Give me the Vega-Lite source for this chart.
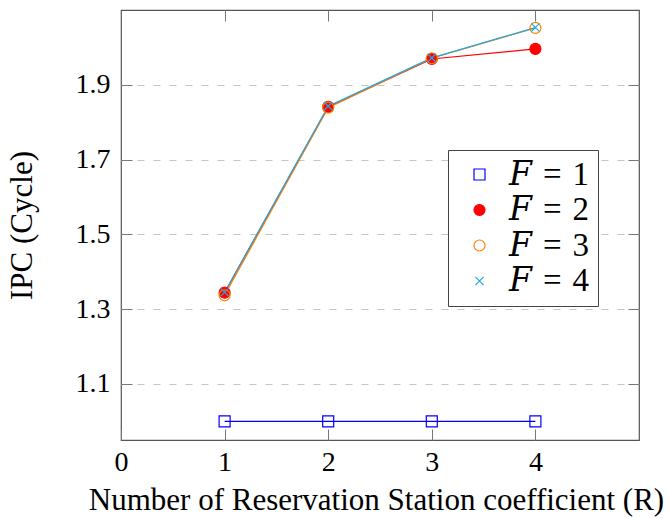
{
  "$schema": "https://vega.github.io/schema/vega-lite/v6.json",
  "width": 518,
  "height": 430,
  "autosize": {"type": "none"},
  "padding": {"left": 121, "top": 10, "right": 30, "bottom": 78},
  "background": "white",
  "config": {
    "view": {"stroke": "#555555", "strokeWidth": 1.2},
    "font": "Liberation Serif",
    "axis": {
      "labelFont": "Liberation Serif",
      "titleFont": "Liberation Serif",
      "labelFontSize": 28,
      "titleFontSize": 31,
      "titleFontWeight": "normal",
      "labelColor": "black",
      "titleColor": "black",
      "domain": false,
      "tickColor": "#777777",
      "tickSize": -11,
      "tickWidth": 1,
      "labelFlush": false
    },
    "legend": {
      "titleFont": "Liberation Serif",
      "labelFont": "Liberation Serif, DejaVu Serif"
    }
  },
  "data": {
    "values": [
      {"R": 1, "F": "1", "ipc": 1.0},
      {"R": 2, "F": "1", "ipc": 1.0},
      {"R": 3, "F": "1", "ipc": 1.0},
      {"R": 4, "F": "1", "ipc": 1.0},
      {"R": 1, "F": "2", "ipc": 1.344},
      {"R": 2, "F": "2", "ipc": 1.841},
      {"R": 3, "F": "2", "ipc": 1.969},
      {"R": 4, "F": "2", "ipc": 1.996},
      {"R": 1, "F": "3", "ipc": 1.337},
      {"R": 2, "F": "3", "ipc": 1.839},
      {"R": 3, "F": "3", "ipc": 1.971},
      {"R": 4, "F": "3", "ipc": 2.052},
      {"R": 1, "F": "4", "ipc": 1.345},
      {"R": 2, "F": "4", "ipc": 1.843},
      {"R": 3, "F": "4", "ipc": 1.972},
      {"R": 4, "F": "4", "ipc": 2.053}
    ]
  },
  "layer": [
    {
      "mark": {"type": "line", "strokeWidth": 1.2},
      "encoding": {
        "x": {
          "field": "R", "type": "quantitative",
          "scale": {"domain": [0, 5], "nice": false},
          "axis": {"orient": "bottom", "values": [0, 1, 2, 3, 4], "grid": false, "title": "Number of Reservation Station coefficient (R)", "labelPadding": 19, "titlePadding": 9, "titleX": 255}
        },
        "y": {
          "field": "ipc", "type": "quantitative",
          "scale": {"domain": [0.95, 2.1], "nice": false, "zero": false},
          "axis": {"orient": "left", "values": [1.1, 1.3, 1.5, 1.7, 1.9], "format": ".1f", "title": "IPC (Cycle)", "grid": true, "gridDash": [7, 9], "gridColor": "#c4c4c4", "gridWidth": 1.2, "labelPadding": 22, "titlePadding": 37}
        },
        "stroke": {
          "field": "F", "type": "nominal",
          "scale": {"domain": ["1", "2", "3", "4"], "range": ["#0000ff", "#ff0000", "#ff8000", "#1ea8e4"]}
        }
      }
    },
    {
      "mark": {"type": "point", "size": 121, "strokeWidth": 1.2, "opacity": 1},
      "encoding": {
        "x": {
          "field": "R", "type": "quantitative",
          "axis": {"orient": "top", "values": [1, 2, 3, 4], "labels": false, "grid": false, "title": null}
        },
        "y": {
          "field": "ipc", "type": "quantitative",
          "axis": {"orient": "right", "values": [1.1, 1.3, 1.5, 1.7, 1.9], "labels": false, "grid": false, "title": null}
        },
        "stroke": {"field": "F", "type": "nominal"},
        "fill": {
          "field": "F", "type": "nominal",
          "scale": {"domain": ["1", "2", "3", "4"], "range": ["transparent", "#ff0000", "transparent", "transparent"]}
        },
        "shape": {
          "field": "F", "type": "nominal",
          "scale": {"domain": ["1", "2", "3", "4"], "range": ["square", "circle", "circle", "M-0.75,-0.75L0.75,0.75M-0.75,0.75L0.75,-0.75"]},
          "legend": {
            "title": null,
            "orient": "none",
            "legendX": 327,
            "legendY": 140,
            "fillColor": "white",
            "strokeColor": "#444444",
            "padding": 8,
            "symbolSize": 121,
            "symbolStrokeWidth": 1.2,
            "symbolOffset": 7,
            "labelOffset": 13,
            "labelFontSize": 33,
            "labelColor": "black",
            "rowPadding": 1.5,
            "labelExpr": "'𝐹\u2004=\u2004' + datum.label"
          }
        }
      }
    }
  ],
  "resolve": {"axis": {"x": "independent", "y": "independent"}}
}
